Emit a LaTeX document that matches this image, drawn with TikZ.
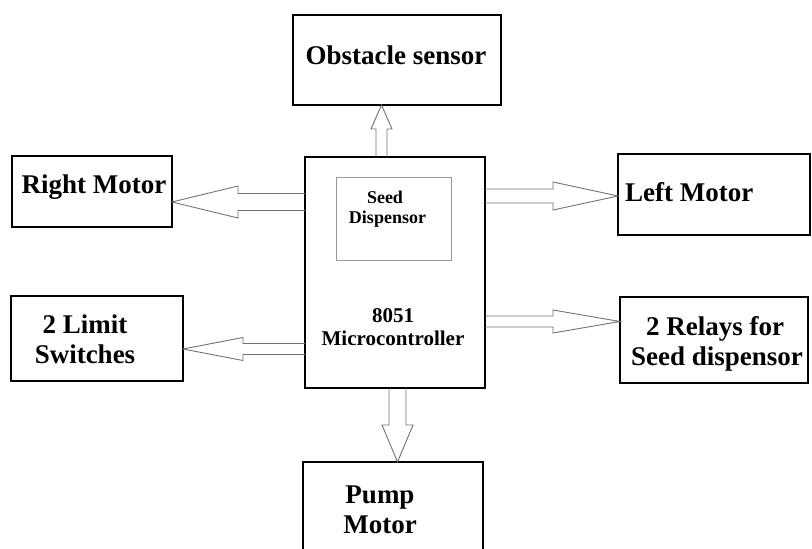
\documentclass[tikz,border=0pt]{standalone}
\usepackage{fontspec}
\setmainfont{Liberation Serif}
\usetikzlibrary{calc}
\tikzset{
  box/.style={draw=black, line width=2.6pt, inner sep=0pt, outer sep=0pt},
  innerbox/.style={draw=gray!80, line width=1pt, inner sep=0pt, outer sep=0pt},
  arr/.style={draw=gray!90!black, line width=0.9pt, line join=miter},
  lbl/.style={font=\bfseries\fontsize{27}{29}\selectfont, inner sep=0pt, anchor=base},
  mlbl/.style={font=\bfseries\fontsize{21}{24}\selectfont, inner sep=0pt, anchor=base},
  slbl/.style={font=\bfseries\fontsize{18}{20}\selectfont, inner sep=0pt, anchor=base},
}
\newcommand{\blockarrow}[5]{%
  \draw[arr] let \p1=($(#2)-(#1)$), \n1={atan2(\y1,\x1)} in
    ($(#1)+(\n1+90:#3pt)$) -- ($(#2)+(\n1+180:#5pt)+(\n1+90:#3pt)$)
    -- ($(#2)+(\n1+180:#5pt)+(\n1+90:#4pt)$) -- (#2)
    -- ($(#2)+(\n1+180:#5pt)+(\n1-90:#4pt)$)
    -- ($(#2)+(\n1+180:#5pt)+(\n1-90:#3pt)$) -- ($(#1)+(\n1-90:#3pt)$);}
\begin{document}
\begin{tikzpicture}[x=1pt,y=-1pt]
\clip (0,0) rectangle (812,549);
\fill[white] (0,0) rectangle (812,549);
% boxes
\node[box, minimum width=208pt, minimum height=90pt] (obs) at (397,60) {};
\node[box, minimum width=180pt, minimum height=231pt] (micro) at (395,272.5) {};
\node[innerbox, minimum width=115pt, minimum height=83pt] (seed) at (393.5,218.5) {};
\node[box, minimum width=160pt, minimum height=71pt] (rm) at (92,191.5) {};
\node[box, minimum width=192pt, minimum height=81pt] (lm) at (714,194.5) {};
\node[box, minimum width=172pt, minimum height=85pt] (ls) at (97,338.5) {};
\node[box, minimum width=188pt, minimum height=86pt] (rel) at (714,340) {};
\node[box, minimum width=180pt, minimum height=110pt] (pump) at (393,517) {};
% labels
\node[lbl] (obst) at (396,64) {Obstacle sensor};
\node[lbl] (rmt) at (94,193) {Right Motor};
\node[lbl, anchor=base west] (lmt) at (625,201) {Left Motor};
\node[lbl] (lst1) at (85,333) {2 Limit};
\node[lbl] (lst2) at (85,363) {Switches};
\node[lbl] (relt1) at (715,335) {2 Relays for};
\node[lbl] (relt2) at (717,365) {Seed dispensor};
\node[lbl] (pumpt1) at (380,503) {Pump};
\node[lbl] (pumpt2) at (380,533) {Motor};
\node[mlbl] (mt1) at (393,322) {8051};
\node[mlbl] (mt2) at (393,345) {Microcontroller};
\node[slbl] (st1) at (385,203) {Seed};
\node[slbl] (st2) at (387.5,223) {Dispensor};
% connector end points
\coordinate (upS) at (micro.north -| 381.5,0);
\coordinate (upT) at (obs.south -| 381.5,0);
\coordinate (rmS) at (micro.west |- 0,202);
\coordinate (rmT) at (rm.east |- 0,202);
\coordinate (lmS) at (micro.east |- 0,196);
\coordinate (lmT) at (lm.west |- 0,196);
\coordinate (lsS) at (micro.west |- 0,349);
\coordinate (lsT) at (ls.east |- 0,349);
\coordinate (relS) at (micro.east |- 0,321.5);
\coordinate (relT) at (rel.west |- 0,321.5);
\coordinate (pS) at (micro.south -| 397.5,0);
\coordinate (pT) at (pump.north -| 397.5,0);
% block arrows
\blockarrow{upS}{upT}{5.5}{10.5}{24}
\blockarrow{rmS}{rmT}{8.5}{16}{66}
\blockarrow{lmS}{lmT}{7}{14}{65}
\blockarrow{lsS}{lsT}{5.5}{11.5}{60}
\blockarrow{relS}{relT}{5.5}{11.5}{67}
\blockarrow{pS}{pT}{8.5}{15.5}{37}
\end{tikzpicture}
\end{document}
